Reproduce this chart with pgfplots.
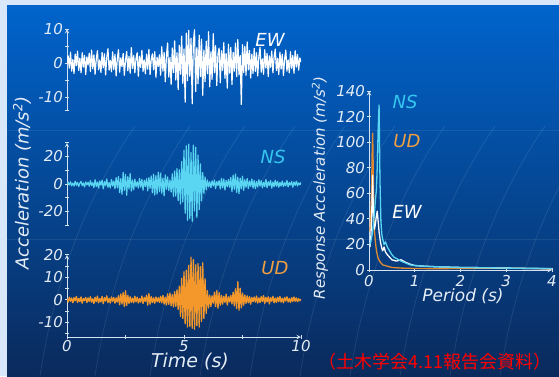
\documentclass[border=0pt]{standalone}
\usepackage{fontspec}
\setmainfont{DejaVu Sans}
\newfontfamily\cjk{Noto Sans CJK JP}
\usepackage{pgfplots}
\usepackage{pgfplotstable}
\pgfplotsset{compat=1.18}
\definecolor{axcol}{HTML}{D4E2F2}
\definecolor{txtcol}{HTML}{E4ECF6}
\definecolor{nscol}{HTML}{5AD6F2}
\definecolor{udcol}{HTML}{F4982C}
\definecolor{udspec}{HTML}{E08A30}
\definecolor{nslab}{HTML}{35C6F0}
\definecolor{udlab}{HTML}{F0A040}
\definecolor{bgtop}{HTML}{0064CC}
\definecolor{bgmid}{HTML}{00469C}
\definecolor{bgbot}{HTML}{0A2A5C}
\definecolor{framecol}{HTML}{D8E8FA}

\pgfplotstableread[row sep=\\]{a\\
0\\2.1\\-1.5\\3.2\\-2.4\\1.0\\-3.1\\2.6\\-0.8\\3.5\\-2.2\\1.4\\-2.9\\3.0\\-1.2\\2.2\\-3.4\\1.8\\-0.6\\2.9\\
-2.5\\3.8\\-1.7\\2.4\\-3.3\\1.1\\3.6\\-2.0\\0.9\\-2.8\\3.1\\-1.4\\2.7\\-3.5\\1.6\\4.2\\-2.1\\0.8\\-2.6\\3.3\\
-1.9\\2.5\\-3.8\\1.2\\3.9\\-2.7\\1.5\\-1.1\\2.8\\-3.6\\0.7\\3.4\\-2.3\\1.9\\-3.0\\4.5\\-1.6\\2.2\\-2.9\\1.3\\
3.0\\-3.9\\2.0\\-1.3\\3.7\\-2.5\\0.9\\-3.2\\2.6\\-1.8\\4.0\\-3.4\\1.1\\2.7\\-2.0\\3.3\\-4.2\\1.7\\-1.0\\2.4\\
-3.6\\4.8\\-2.4\\3.1\\-5.5\\2.2\\5.9\\-4.1\\1.6\\-6.3\\4.4\\-2.8\\6.5\\-5.0\\3.0\\-7.8\\5.2\\-3.3\\7.9\\-6.0\\
4.1\\-11.5\\8.8\\-5.2\\9.6\\-3.9\\7.3\\-12.0\\6.2\\9.8\\-8.4\\4.5\\-6.1\\8.2\\-4.0\\7.0\\-9.5\\3.8\\-5.5\\6.4\\
-3.2\\9.2\\-7.0\\3.3\\-4.8\\8.6\\-2.9\\5.1\\-6.6\\2.5\\4.4\\-5.8\\3.6\\-2.2\\6.0\\-4.5\\2.8\\-7.4\\5.5\\-3.0\\
4.6\\-6.3\\3.1\\-2.4\\5.8\\-4.0\\6.9\\-3.5\\2.2\\-12.2\\5.4\\-2.8\\4.9\\-3.6\\6.2\\-2.0\\3.7\\-4.4\\2.6\\-3.1\\
4.3\\-2.5\\3.0\\-3.8\\1.9\\4.6\\-2.7\\1.2\\-3.3\\3.9\\-1.5\\2.8\\-4.0\\2.1\\-1.3\\3.5\\-2.9\\1.6\\4.1\\-2.2\\
1.4\\-3.4\\3.2\\-1.8\\2.6\\-3.7\\1.1\\3.8\\-2.4\\0.9\\-2.9\\3.3\\-1.6\\2.2\\-3.0\\3.6\\-1.2\\2.5\\-2.1\\1.5\\0.3\\
}\ewdata

\pgfplotstableread[row sep=\\]{a\\
0\\1.2\\-0.8\\1.6\\-1.3\\0.7\\-1.5\\2.0\\-0.9\\1.1\\-1.8\\0.6\\1.9\\-1.2\\0.8\\-2.1\\1.5\\-0.7\\1.3\\-1.6\\
2.4\\-1.1\\0.9\\-2.6\\3.1\\-1.8\\1.4\\-3.0\\2.2\\-0.8\\2.8\\-3.5\\1.7\\-1.2\\3.6\\-2.4\\1.0\\-2.9\\3.3\\-1.5\\
2.1\\-3.4\\4.6\\-2.8\\5.5\\-6.2\\3.9\\-7.5\\8.4\\-4.6\\6.9\\-8.2\\5.3\\-3.7\\7.6\\-5.1\\2.9\\-4.2\\3.5\\-2.0\\
1.6\\-3.0\\4.1\\-2.3\\3.4\\-4.5\\2.7\\-1.8\\3.9\\-5.0\\4.6\\-3.2\\5.8\\-6.4\\7.2\\-8.0\\6.1\\-7.3\\8.5\\-5.6\\
7.9\\-6.8\\4.4\\-8.6\\6.6\\-3.9\\5.2\\-4.8\\3.0\\-5.9\\7.4\\-9.1\\9.5\\-8.7\\11.2\\-12.0\\10.3\\-14.5\\16.4\\-13.1\\
24.6\\-21.3\\27.8\\-26.4\\29.0\\-25.2\\22.9\\-27.1\\28.3\\-19.6\\26.8\\-24.4\\21.1\\-18.5\\14.7\\-12.2\\8.3\\-6.9\\5.1\\-4.2\\
3.0\\-2.1\\1.6\\-2.7\\2.3\\-1.4\\2.9\\-3.3\\1.8\\-1.1\\2.5\\-3.6\\4.1\\-2.8\\3.7\\-4.4\\2.6\\-1.9\\3.2\\-2.5\\
4.8\\-5.6\\6.4\\-3.9\\7.3\\-6.1\\5.0\\-7.0\\4.2\\-3.5\\5.7\\-4.6\\3.1\\-2.4\\4.0\\-3.3\\2.2\\-1.7\\3.5\\-2.9\\
2.6\\-3.4\\1.9\\-2.2\\3.1\\-1.5\\2.4\\-2.8\\1.3\\-1.9\\3.3\\-2.6\\1.7\\-1.1\\2.5\\-3.0\\1.4\\-2.0\\2.8\\-1.6\\
1.9\\-2.4\\1.2\\-1.5\\2.2\\-1.8\\0.9\\-1.3\\2.6\\-2.1\\1.1\\-0.8\\1.8\\-2.3\\1.5\\-1.0\\2.0\\-1.4\\0.8\\-0.6\\1.2\\
}\nsdata

\pgfplotstableread[row sep=\\]{a\\
0.5\\-0.9\\1.2\\-0.6\\0.8\\-1.3\\1.0\\-0.4\\1.5\\-1.1\\0.7\\-0.8\\1.3\\-1.5\\0.6\\-0.3\\1.1\\-1.2\\0.9\\-0.7\\
1.4\\-1.0\\0.5\\-1.6\\1.2\\-0.8\\1.7\\-1.3\\0.6\\-0.9\\1.5\\-1.7\\1.0\\-0.5\\1.8\\-1.2\\0.7\\-1.4\\1.3\\-0.6\\
1.1\\-1.5\\0.9\\-1.0\\1.9\\-2.2\\2.6\\-1.8\\3.2\\-2.9\\4.1\\-2.5\\2.0\\-1.6\\1.4\\-1.1\\0.8\\-1.3\\1.6\\-0.9\\
1.2\\-1.4\\0.6\\-1.0\\1.7\\-1.6\\1.1\\-0.7\\2.1\\-2.4\\2.8\\-1.9\\1.5\\-1.2\\0.9\\-1.5\\1.3\\-0.8\\1.0\\-1.1\\
1.6\\-1.3\\2.0\\-1.8\\1.2\\-2.3\\2.7\\-2.0\\3.1\\-2.6\\2.4\\-3.1\\3.6\\-2.9\\4.5\\-4.2\\6.1\\-7.4\\9.6\\-8.3\\
12.5\\-10.6\\13.2\\-12.0\\15.4\\-11.8\\19.0\\-12.6\\17.9\\-13.0\\15.6\\-11.4\\16.2\\-12.1\\14.8\\-9.6\\16.5\\-8.2\\9.4\\-6.0\\
4.1\\-3.6\\2.1\\-2.9\\1.8\\-1.5\\3.4\\-3.0\\4.2\\-3.7\\3.2\\-2.4\\2.0\\-1.9\\1.6\\-1.1\\2.5\\-2.3\\1.4\\-0.9\\
2.0\\-1.8\\3.4\\-2.7\\4.9\\-3.8\\8.1\\-4.6\\5.2\\-3.5\\3.0\\-2.4\\2.2\\-1.6\\1.8\\-1.3\\1.5\\-1.9\\1.1\\-0.8\\
1.3\\-1.0\\1.7\\-1.4\\0.9\\-1.2\\1.5\\-0.7\\1.9\\-1.6\\1.1\\-0.9\\1.4\\-1.8\\1.0\\-0.6\\1.6\\-1.3\\0.8\\-1.1\\
1.2\\-0.8\\1.5\\-1.0\\0.7\\-1.3\\1.1\\-0.5\\1.4\\-0.9\\0.6\\-1.1\\1.0\\-0.7\\1.3\\-0.6\\0.9\\-0.8\\0.5\\-0.4\\0.3\\
}\uddata

\pgfplotsset{
  common/.style={
    scale only axis,
    axis line style={axcol, line width=1pt, -},
    tick align=inside,
    major tick length=4pt, minor tick length=3.5pt,
    major tick style={axcol, line width=1pt},
    minor tick style={axcol, line width=1pt},
    ticklabel style={font=\fontsize{15}{15}\selectfont\itshape, text=txtcol},
    /pgf/number format/assume math mode=true,
    yticklabel style={xshift=1.5pt},
  },
  wave/.style={common, width=234pt, xmin=0, xmax=10},
}

\begin{document}
\begin{tikzpicture}[x=1pt,y=1pt]
\useasboundingbox (0,0) rectangle (559,376);
\fill[framecol] (0,0) rectangle (559,376);
\shade[top color=bgtop, middle color=bgmid, bottom color=bgbot] (7,0) rectangle (559,370);
\foreach \a in {40,95,150,200,250,300,350,400,450,500}
  \draw[white, opacity=0.10, line width=0.7pt] (\a,0) .. controls (\a+12,80) and (\a+40,170) .. (\a+95,250);
\draw[white, opacity=0.08, line width=1pt] (7,246) -- (559,246);
\draw[white, opacity=0.08, line width=1pt] (7,137) -- (559,137);

% EW
\begin{axis}[wave, at={(67pt,265.4pt)}, anchor=south west, height=81.6pt,
  ymin=-14, ymax=10, axis y line=left, axis x line=none,
  ytick={-10,0,10}, minor ytick={-5,5}, extra y ticks={-14}, extra y tick labels={}]
\addplot[white, line width=1.2pt, line join=round] table[x expr=\coordindex*0.05, y=a] {\ewdata};
\end{axis}

% NS
\begin{axis}[wave, at={(67pt,150.75pt)}, anchor=south west, height=82.5pt,
  ymin=-30, ymax=30, axis y line=left, axis x line=none,
  ytick={-20,0,20}, minor ytick={-10,10}, extra y ticks={-30,30}, extra y tick labels={}]
\addplot[nscol, line width=1.2pt, line join=round] table[x expr=\coordindex*0.05, y=a] {\nsdata};
\end{axis}

% UD
\begin{axis}[wave, at={(67pt,39pt)}, anchor=south west, height=82.1pt,
  ymin=-16.5, ymax=20, axis lines=left,
  ytick={-10,0,10,20}, minor ytick={-15,-5,5,15},
  xtick={0,5,10}, minor xtick={2.5,7.5},
  xticklabel style={yshift=2pt}]
\addplot[udcol, line width=1.3pt, line join=round] table[x expr=\coordindex*0.05, y=a] {\uddata};
\end{axis}

% Spectrum
\begin{axis}[common, at={(369pt,106pt)}, anchor=south west, width=183pt, height=179pt,
  xmin=0, xmax=4, ymin=0, ymax=140, axis lines=left,
  xtick={0,1,2,3,4}, ytick={0,20,...,140}]
\addplot[udspec, line width=1.3pt, line join=round] coordinates {
(0.02,30)(0.04,45)(0.06,70)(0.07,95)(0.08,107)(0.09,85)(0.1,60)(0.11,40)(0.12,30)(0.14,22)(0.16,16)(0.18,12)(0.2,9)(0.25,6)(0.3,4)(0.4,3)(0.5,2)(0.7,1.5)(1.0,1.2)(1.5,1)(2,1.2)(3,1.5)(3.5,1.2)(4,0.8)};
\addplot[white, line width=1.3pt, line join=round] coordinates {
(0.02,18)(0.04,25)(0.06,45)(0.07,60)(0.08,74)(0.09,55)(0.1,38)(0.12,32)(0.14,36)(0.16,42)(0.18,46)(0.2,38)(0.22,30)(0.25,22)(0.28,17)(0.3,15)(0.33,18)(0.36,14)(0.4,12)(0.45,10)(0.5,8)(0.6,7)(0.7,8)(0.8,6)(0.9,4.5)(1.0,3.5)(1.2,3)(1.5,2.5)(2.0,2)(2.5,1.8)(3,1.5)(3.5,1.2)(4,1)};
\addplot[nscol, line width=1.3pt, line join=round] coordinates {
(0.02,20)(0.05,24)(0.08,30)(0.1,38)(0.12,45)(0.14,55)(0.16,62)(0.18,80)(0.2,110)(0.22,129)(0.24,70)(0.26,38)(0.28,28)(0.3,24)(0.33,20)(0.36,22)(0.4,18)(0.45,15)(0.5,12)(0.55,10)(0.6,9)(0.7,7)(0.8,5.5)(0.9,4)(1.0,3.5)(1.2,3)(1.5,2.5)(2.0,2)(2.5,1.8)(3.0,1.5)(3.5,1.3)(4.0,1.2)};
\end{axis}

% texts
\node[font=\fontsize{18}{18}\selectfont\itshape, text=txtcol, rotate=90] at (22,193) {Acceleration (m/s\textsuperscript{2})};
\node[font=\fontsize{19}{19}\selectfont\itshape, text=txtcol] at (190,14) {Time (s)};
\node[font=\fontsize{15}{15}\selectfont\itshape, text=txtcol, rotate=90] at (320,188) {Response Acceleration (m/s\textsuperscript{2})};
\node[font=\fontsize{17}{17}\selectfont\itshape, text=txtcol] at (463,80) {Period (s)};
\node[font=\fontsize{18}{18}\selectfont\itshape, text=white] at (270,336) {EW};
\node[font=\fontsize{18}{18}\selectfont\itshape, text=nslab] at (273,219) {NS};
\node[font=\fontsize{18}{18}\selectfont\itshape, text=udlab] at (275,108) {UD};
\node[font=\fontsize{18}{18}\selectfont\itshape, text=nslab] at (405,274) {NS};
\node[font=\fontsize{18}{18}\selectfont\itshape, text=udlab] at (407,235) {UD};
\node[font=\fontsize{18}{18}\selectfont\itshape, text=white] at (407,164) {EW};
\node[font=\cjk\fontsize{18}{18}\selectfont, text=red] at (435,14) {（土木学会4.11報告会資料）};
\end{tikzpicture}
\end{document}
